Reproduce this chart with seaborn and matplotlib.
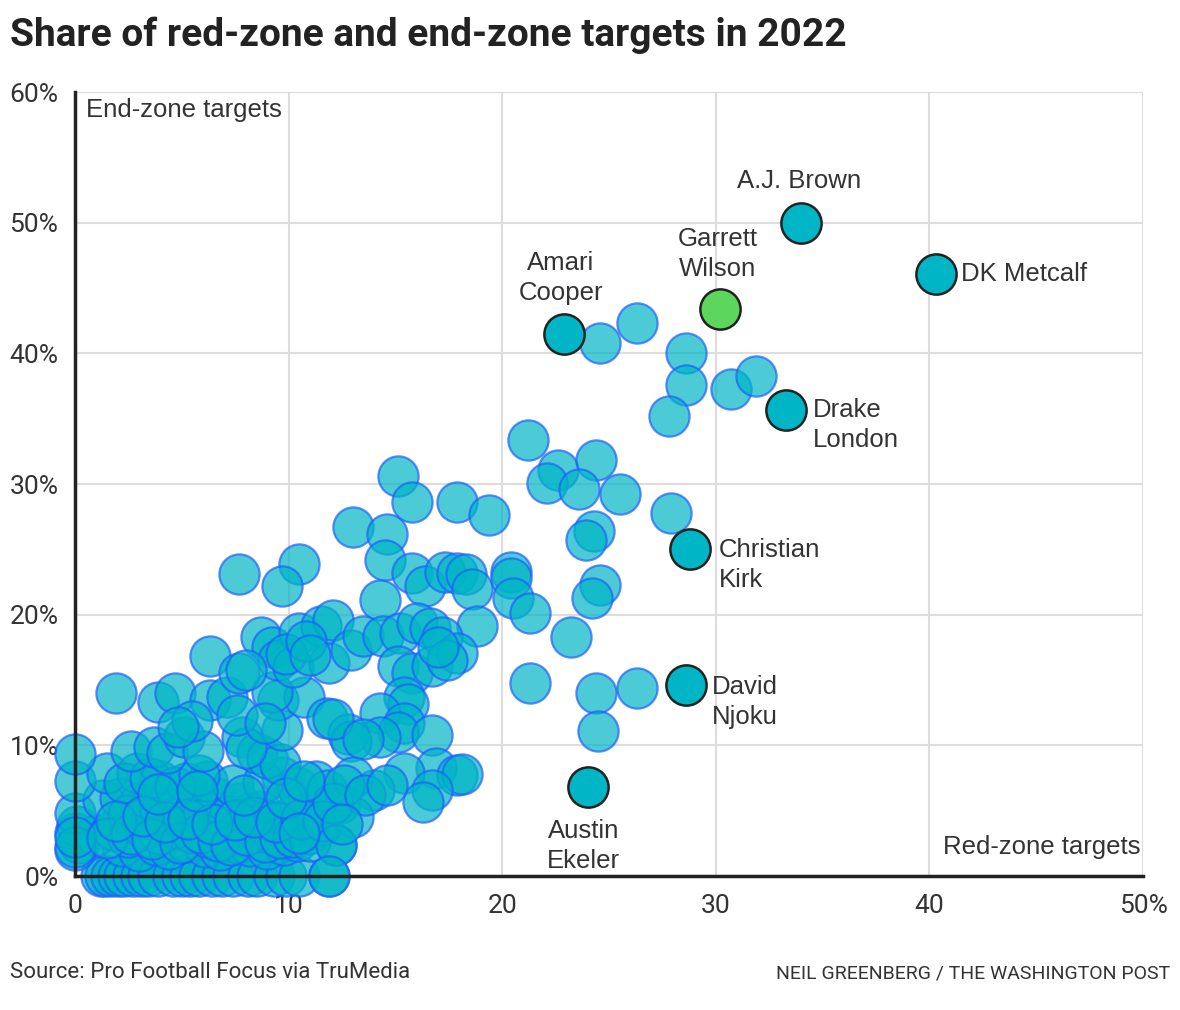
import matplotlib
matplotlib.use("Agg")
import matplotlib.pyplot as plt
import seaborn as sns
import pandas as pd

# ---------------- data ----------------
# all players: red-zone target share (%), end-zone target share (%)
others_x = [
    # y = 0 row
    1.2, 1.4, 1.7, 2.0, 2.3, 2.7, 3.1, 3.4, 3.9, 4.6, 5.0, 5.4, 5.8, 6.4, 6.9, 7.4, 8.1, 8.5, 9.3, 9.9, 10.5, 11.9,
    # ~2%
    0.0, 0.2, 2.2, 3.0, 3.8, 4.4, 5.2, 6.1, 6.8, 7.6, 8.2, 9.0, 9.8, 10.4, 12.2,
    # ~3-4%
    0.0, 0.1, 1.0, 1.8, 2.5, 3.3, 4.0, 4.7, 5.5, 6.2, 7.0, 7.8, 8.6, 9.3, 10.1, 10.9, 11.5,
    # ~5-6%
    0.0, 1.3, 2.1, 3.0, 4.4, 5.5, 6.6, 7.7, 8.7, 10.5, 12.4, 2.5, 4.0, 5.0, 6.0, 7.2, 8.2, 9.0, 11.2,
    # ~7-8%
    0.0, 1.5, 2.9, 4.0, 5.2, 6.2, 7.4, 9.7, 10.4, 11.3, 2.3, 3.5, 4.7, 5.8, 8.8, 11.8,
    # ~9-10%
    0.0, 2.6, 3.7, 4.3, 5.1, 6.0, 7.8, 8.5, 9.0, 9.6, 8.0,
    # extra dense bottom cluster
    0.0, 0.0, 1.5, 2.6, 3.6, 4.9, 5.9, 6.7, 7.3, 8.0, 8.9, 9.6, 10.2, 11.0,
    1.9, 3.2, 4.2, 5.3, 6.4, 7.5, 8.4, 9.4, 10.6, 11.6, 3.9, 5.7, 7.9, 9.9,
    # ~11-14%
    1.9, 3.9, 4.7, 6.3, 7.1, 7.6, 5.5, 4.8, 9.7, 9.5, 10.7, 11.8, 9.2, 8.9,
    # ~15-19%
    6.3, 7.7, 8.7, 9.2, 9.5, 10.2, 10.5, 11.5, 12.1, 11.9, 12.9, 8.0, 9.9, 10.8, 11.0,
    # upper left
    7.7, 10.5, 9.7,
    # middle
    13.0, 14.6, 14.5, 15.1, 15.8, 17.9, 19.4, 15.8, 16.4, 17.3, 17.9, 18.3, 18.6, 20.4, 20.4, 20.5,
    14.3, 18.8, 13.5, 14.4, 15.2, 16.0, 16.6, 17.2, 15.1, 15.8, 16.7, 17.9, 17.4, 17.0,
    15.4, 15.6, 14.3, 15.4, 15.1, 16.7, 14.3, 12.8, 12.9, 12.1, 13.5,
    16.9, 17.9, 18.1, 15.4, 16.7, 16.3, 14.0, 13.0, 13.0, 12.1, 12.2, 11.9, 10.7, 10.5,
    12.6, 13.6, 14.6, 12.5,
    # right
    24.6, 26.3, 28.6, 28.6, 27.8, 30.7, 31.9, 21.2, 22.6, 22.1, 24.4, 23.6, 25.5, 27.9,
    24.3, 23.9, 24.6, 24.2, 21.3, 23.2, 21.3, 24.4, 26.3, 24.5,
]
others_y = [
    0, 0, 0, 0, 0, 0, 0, 0, 0, 0, 0, 0, 0, 0, 0, 0, 0, 0, 0, 0, 0, 0,
    2.0, 2.5, 2.3, 1.9, 2.4, 2.1, 2.6, 2.2, 2.0, 2.5, 2.3, 2.1, 2.4, 2.7, 2.4,
    3.3, 3.8, 3.1, 3.5, 3.0, 3.6, 3.2, 3.7, 3.3, 3.0, 3.5, 3.8, 3.4, 3.1, 3.6, 3.2, 3.9,
    4.8, 5.8, 6.0, 5.6, 6.0, 5.6, 6.0, 5.6, 5.0, 5.3, 5.6, 4.7, 4.9, 4.5, 5.0, 4.6, 4.8, 4.3, 4.8,
    7.3, 7.9, 7.9, 7.3, 7.1, 7.3, 7.0, 7.6, 6.8, 7.3, 7.1, 7.5, 6.8, 7.7, 7.2, 6.6,
    9.3, 9.6, 9.9, 9.4, 10.6, 9.6, 10.6, 9.4, 9.0, 8.6, 9.8,
    2.2, 3.0, 2.9, 3.2, 2.8, 2.5, 3.3, 2.7, 2.4, 3.1, 2.6, 2.9, 3.0, 2.7,
    4.2, 4.6, 4.1, 4.4, 4.0, 4.3, 4.5, 4.1, 4.4, 4.2, 6.3, 6.5, 6.2, 6.0,
    14.0, 13.3, 14.0, 13.5, 13.7, 12.3, 11.9, 11.4, 11.2, 13.5, 13.7, 12.1, 14.1, 11.7,
    16.8, 15.5, 18.3, 17.5, 16.5, 16.0, 18.6, 19.1, 19.6, 16.3, 17.3, 15.8, 17.0, 18.0, 16.9,
    23.1, 23.9, 22.2,
    26.7, 26.2, 24.2, 30.6, 28.6, 28.6, 27.6, 23.2, 22.2, 23.3, 23.2, 23.1, 22.0, 23.3, 22.8, 21.3,
    21.1, 19.1, 18.4, 18.4, 18.6, 19.4, 19.0, 18.3, 16.1, 15.5, 16.1, 17.1, 16.5, 17.5,
    13.7, 13.2, 12.5, 11.7, 11.0, 10.8, 10.6, 10.9, 10.3, 12.0, 10.5,
    8.3, 7.7, 7.8, 7.9, 6.6, 5.7, 6.6, 7.6, 4.5, 5.6, 2.4, 0.0, 7.3, 3.3,
    7.0, 6.2, 7.0, 4.0,
    40.8, 42.3, 40.0, 37.6, 35.2, 37.3, 38.3, 33.4, 31.1, 30.1, 31.8, 29.6, 29.2, 27.8,
    26.4, 25.7, 22.3, 21.3, 20.1, 18.3, 14.8, 14.0, 14.4, 11.1,
]

# highlighted players
hl_names = ["A.J. Brown", "DK Metcalf", "Amari Cooper", "Drake London",
            "Christian Kirk", "David Njoku", "Austin Ekeler"]
hl_x = [34.0, 40.3, 22.9, 33.3, 28.8, 28.6, 24.0]
hl_y = [50.0, 46.1, 41.5, 35.7, 25.0, 14.6, 6.8]
gw_name = "Garrett Wilson"
gw_x = [30.2]
gw_y = [43.4]

x_ticks = [0, 10, 20, 30, 40, 50]
x_tick_labels = ["0", "10", "20", "30", "40", "50%"]
y_ticks = [0, 10, 20, 30, 40, 50, 60]
y_tick_labels = ["0%", "10%", "20%", "30%", "40%", "50%", "60%"]

# ---------------- plot ----------------
sns.set_theme(style="white")
plt.rcParams["font.family"] = ["Roboto", "DejaVu Sans"]

fig = plt.figure(figsize=(11.8, 10.1), dpi=100)
ax = fig.add_axes([75 / 1180, 1 - 876 / 1010, (1143 - 75) / 1180, (876 - 92) / 1010])

others = pd.DataFrame({"rz": others_x, "ez": others_y})
hl = pd.DataFrame({"rz": hl_x, "ez": hl_y, "name": hl_names})
gw = pd.DataFrame({"rz": gw_x, "ez": gw_y})

sns.scatterplot(data=others, x="rz", y="ez", ax=ax, s=840,
                color="#00B5C5", alpha=0.7, edgecolor="#1F5EFF",
                linewidth=1.6, clip_on=False, zorder=3, legend=False)
sns.scatterplot(data=hl, x="rz", y="ez", ax=ax, s=840,
                color="#00B5C5", edgecolor="#222222",
                linewidth=1.8, clip_on=False, zorder=4, legend=False)
sns.scatterplot(data=gw, x="rz", y="ez", ax=ax, s=840,
                color="#5CD65C", edgecolor="#222222",
                linewidth=1.8, clip_on=False, zorder=4, legend=False)

ax.set_xlim(0, 50)
ax.set_ylim(0, 60)
ax.set_xticks(x_ticks)
ax.set_xticklabels(x_tick_labels)
ax.set_yticks(y_ticks)
ax.set_yticklabels(y_tick_labels)
ax.set_xlabel("")
ax.set_ylabel("")
ax.grid(True, color="#dddddd", linewidth=1.5, zorder=0)
ax.set_axisbelow(True)
for s in ["top", "right"]:
    ax.spines[s].set_visible(False)
for s in ["left", "bottom"]:
    ax.spines[s].set_color("#222222")
    ax.spines[s].set_linewidth(2.5)
    ax.spines[s].set_zorder(6)
ax.tick_params(axis="both", length=0, labelsize=19, labelcolor="#333333")
ax.tick_params(axis="x", pad=13)
ax.tick_params(axis="y", pad=12)

lab_kw = dict(fontsize=18.5, color="#333333", family=["Liberation Sans", "DejaVu Sans"],
              linespacing=1.3, zorder=7)
ax.text(0.5, 58.6, "End-zone targets", ha="left", va="center", **lab_kw)
ax.text(49.9, 2.2, "Red-zone targets", ha="right", va="center", **lab_kw)
ax.text(33.9, 53.2, "A.J. Brown", ha="center", va="center", **lab_kw)
ax.text(41.5, 46.1, "DK Metcalf", ha="left", va="center", **lab_kw)
ax.text(30.1, 47.6, "Garrett\nWilson", ha="center", va="center", **lab_kw)
ax.text(22.75, 45.75, "Amari\nCooper", ha="center", va="center", **lab_kw)
ax.text(34.55, 34.5, "Drake\nLondon", ha="left", va="center", **lab_kw)
ax.text(30.15, 23.8, "Christian\nKirk", ha="left", va="center", **lab_kw)
ax.text(29.8, 13.3, "David\nNjoku", ha="left", va="center", **lab_kw)
ax.text(23.8, 2.3, "Austin\nEkeler", ha="center", va="center", **lab_kw)

fig.text(10 / 1180, 1 - 35 / 1010, "Share of red-zone and end-zone targets in 2022",
         ha="left", va="center", fontsize=28, fontweight="bold", color="#222222")
fig.text(10 / 1180, 1 - 973 / 1010, "Source: Pro Football Focus via TruMedia",
         ha="left", va="center", fontsize=16, color="#333333")
fig.text(1170 / 1180, 1 - 973 / 1010, "NEIL GREENBERG / THE WASHINGTON POST",
         ha="right", va="center", fontsize=14, color="#333333")

fig.savefig("out.png", dpi=100, facecolor="white")
